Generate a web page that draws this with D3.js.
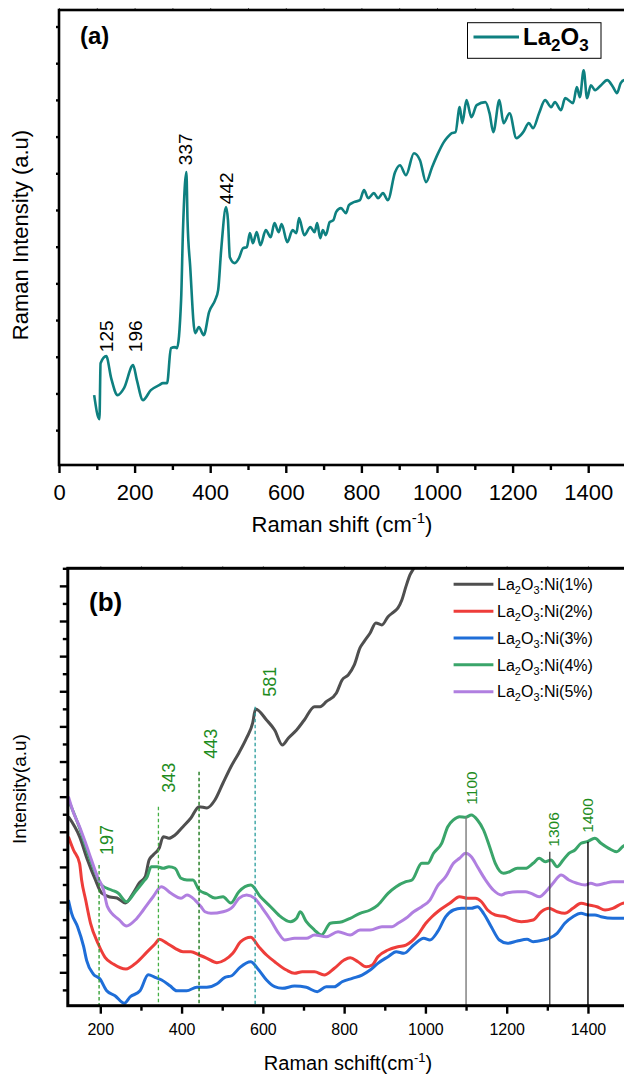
<!DOCTYPE html>
<html>
<head>
<meta charset="utf-8">
<script src="https://cdn.jsdelivr.net/npm/d3@7"></script>
<style>
  html, body { margin: 0; padding: 0; background: #fff; }
  svg { display: block; font-family: "Liberation Sans", Arial, Helvetica, sans-serif; }
</style>
</head>
<body>
<svg id="chart" width="624" height="1074"></svg>
<script>
// ---------- Panel (a): undoped La2O3 Raman spectrum ----------
const shiftTicksA = [0, 200, 400, 600, 800, 1000, 1200, 1400];
const shiftMinorA = [100, 300, 500, 700, 900, 1100, 1300, 1500];
const intensityTicks = [0, 1000, 2000, 3000, 4000, 5000, 6000, 7000, 8000, 9000, 10000, 11000];
const peaksA = [125, 196, 337, 442];

// [Raman shift (cm-1), intensity (a.u.)]
const la2o3 = [
  [93, 954], [107, 300], [110, 1826], [125, 2017], [138, 1417], [155, 954], [172, 1145],
  [196, 1771], [206, 1363], [222, 818], [243, 1090], [265, 1226], [275, 1281], [286, 1281],
  [296, 2235], [307, 2262], [312, 2235], [323, 3543], [328, 5450], [337, 7031], [340, 5723],
  [347, 4469], [360, 2643], [370, 2807], [383, 2589], [397, 3216], [413, 3543], [421, 3815],
  [429, 4905], [442, 6077], [447, 5723], [452, 4714], [465, 4551], [476, 4687], [487, 4960],
  [497, 4987], [505, 5368], [513, 5096], [523, 5396], [533, 5041], [547, 5450], [560, 5259],
  [570, 5641], [581, 5396], [589, 5614], [604, 5123], [618, 5450], [628, 5368], [635, 5777],
  [649, 5314], [665, 5532], [676, 5396], [683, 5641], [691, 5232], [698, 5450], [706, 5314],
  [716, 5668], [726, 5723], [733, 5941], [746, 6050], [759, 5913], [767, 6131], [780, 6213],
  [796, 6268], [807, 6540], [818, 6322], [833, 6458], [844, 6322], [857, 6458], [870, 6268],
  [889, 7031], [902, 7221], [918, 6949], [939, 7548], [955, 7358], [971, 6758], [987, 7167],
  [1003, 7548], [1018, 7848], [1028, 7984], [1039, 8093], [1049, 8121], [1060, 8802],
  [1067, 8366], [1078, 8993], [1091, 8529], [1105, 8856], [1128, 8938], [1139, 8638],
  [1149, 8121], [1165, 8993], [1176, 8366], [1192, 8638], [1210, 7957], [1228, 8121],
  [1243, 8366], [1254, 8230], [1270, 8638], [1286, 8993], [1302, 8802], [1312, 8938],
  [1328, 8720], [1339, 9047], [1360, 8911], [1370, 9347], [1378, 9074], [1388, 9810],
  [1397, 9047], [1407, 9401], [1418, 9265], [1434, 9401], [1450, 9538], [1466, 9347],
  [1476, 9183], [1486, 9456], [1495, 9538], [1500, 9500]
];

// ---------- Panel (b): Ni-doped La2O3 spectra ----------
const shiftTicksB = [200, 400, 600, 800, 1000, 1200, 1400];
const shiftMinorB = [300, 500, 700, 900, 1100, 1300, 1500];
const intensityMinorB = [-500, 500, 1500, 2500, 3500, 4500, 5500, 6500, 7500, 8500, 9500, 10500, 11500];
const dopingLevels = ["1%", "2%", "3%", "4%", "5%"];

const ni1 = [
  [121.5, 4430], [149, 3861], [168.5, 3197], [188, 2628], [203, 2258], [224, 2144], [241, 2115],
  [261.5, 1973], [281, 2258], [296, 2542], [310.5, 2722], [320, 3197], [330, 3340], [345, 3539],
  [355, 3861], [369, 3815], [384, 3909], [403.5, 4145], [423, 4393], [443, 4715], [462.5, 4678],
  [482, 4905], [502, 5389], [521.5, 5853], [541, 6244], [560, 6671], [575, 7098], [582, 7496],
  [609, 7183], [629, 6898], [648, 6471], [663, 6671], [683, 6898], [702, 7183], [727, 7562],
  [741, 7562], [756, 7704], [781, 7952], [795, 8322], [810, 8464], [825, 8749], [839, 9233],
  [849, 9412], [864, 9660], [878, 9945], [893, 9888], [908, 10124], [923, 10266], [932.5, 10372],
  [942, 10599], [952, 10978], [962, 11311], [973, 11547], [982, 11881]
];
const ni2 = [
  [121.5, 3861], [134, 3482], [149, 3103], [154, 2628], [164, 2058], [176, 1395], [195, 806],
  [211.6, 427], [232, 236], [263, 94], [289.6, 285], [314, 569], [334.6, 806], [345, 940],
  [364, 826], [384, 683], [403.5, 586], [423, 586], [443, 493], [462.5, 399], [487, 273],
  [506, 350], [526, 541], [545.5, 871], [570, 996], [590, 729], [609, 493], [629, 302],
  [658, 65], [678, -28], [697, 17], [727, 17], [751, -77], [776, 114], [800, 350], [815, 416],
  [834, 302], [854, 159], [869, 208], [883, 444], [908, 635], [932.5, 729], [952, 777],
  [981, 1062], [1001, 1395], [1016, 1583], [1030, 1725], [1060, 1964], [1084, 2152],
  [1104, 2107], [1123, 2107], [1138, 2010], [1153, 1774], [1172, 1631], [1197, 1583],
  [1216, 1489], [1236, 1441], [1265, 1489], [1285, 1725], [1304, 1822], [1324, 1725],
  [1343, 1680], [1363, 1822], [1383, 1964], [1402.5, 1916], [1422, 1868], [1442, 1774],
  [1461, 1822], [1485, 1964], [1503, 2000]
];
const ni3 = [
  [121.5, 2058], [129.4, 1680], [144, 1298], [159, 729], [166.5, 330], [182.8, -48], [199.3, -190],
  [215.7, -524], [236.2, -666], [259, -882], [273, -703], [297.7, -524], [318, -68], [334.6, -142],
  [351, -219], [371.5, -382], [388, -524], [412.6, -524], [437.2, -427], [461.8, -427],
  [486.4, -333], [506.8, -142], [523.3, -97], [543.8, 142], [570, 302], [590, 65], [609, -219],
  [629, -410], [648, -456], [678, -390], [707, -427], [734, -552], [756, -410], [776, -410],
  [795, -268], [820, -171], [844, -77], [864, 65], [883, 256], [908, 444], [928, 586], [947, 541],
  [971, 777], [996, 968], [1011, 920], [1030, 1156], [1050, 1583], [1069, 1774], [1089, 1822],
  [1113, 1822], [1128, 1868], [1143, 1680], [1162, 1298], [1182, 920], [1202, 826], [1226, 891],
  [1250, 940], [1265, 871], [1290, 920], [1304, 968], [1324, 1110], [1343, 1395], [1363, 1583],
  [1383, 1680], [1400, 1631], [1417, 1631], [1432, 1583], [1461, 1537], [1485, 1537], [1503, 1546]
];
const ni4 = [
  [121.5, 4905], [149, 4108], [168.5, 3425], [188, 2827], [203, 2485], [227.3, 2343], [243.6, 2258],
  [264.5, 2010], [286, 2295], [305.8, 2579], [315.4, 2722], [325.2, 3006], [340, 3006],
  [354.8, 2961], [369, 3006], [383.8, 2961], [398.6, 2676], [413.3, 2628], [428, 2628],
  [443, 2343], [462.6, 2229], [482, 2115], [502, 2152], [521, 1973], [541, 2295], [570, 2485],
  [594, 2152], [619, 1868], [639, 1631], [668, 1441], [683, 1537], [692, 1725], [707, 1441],
  [727, 1204], [744, 1062], [766, 1395], [795, 1441], [815, 1537], [839, 1680], [864, 1774],
  [883, 1916], [908, 2249], [928, 2437], [952, 2579], [967, 2628], [991, 3103], [1006, 3103],
  [1020, 3388], [1040, 3673], [1055, 4145], [1069, 4336], [1084, 4430], [1099, 4413],
  [1113, 4478], [1128, 4336], [1143, 4051], [1158, 3576], [1172, 3103], [1192, 2819],
  [1207, 2864], [1226, 2961], [1246, 2961], [1265, 3103], [1280, 3246], [1295, 3149],
  [1309, 3197], [1324, 3006], [1339, 3197], [1353, 3388], [1368, 3482], [1383, 3673],
  [1398, 3718], [1417, 3815], [1432, 3673], [1451, 3530], [1471, 3434], [1485, 3576], [1503, 3681]
];
const ni5 = [
  [121.5, 4999], [134.3, 4535], [149, 4145], [163.8, 3681], [178.3, 3197], [193, 2722], [208, 2343],
  [217.5, 1868], [247, 1489], [264.5, 1318], [286, 1489], [305.8, 1774], [330, 2152], [350, 2437],
  [374, 2249], [398.6, 2107], [413.3, 2201], [433, 2058], [447.8, 1868], [457.6, 1725],
  [472.4, 1680], [502, 1725], [526, 1868], [541, 2107], [560, 2201], [580, 2107], [599, 1822],
  [619, 1489], [639, 1110], [653.5, 920], [678, 968], [707, 968], [727, 1062], [756, 1014],
  [785, 1156], [815, 1062], [839, 1204], [864, 1204], [893, 1298], [918, 1298], [932.5, 1395],
  [952, 1537], [971, 1725], [991, 1868], [1011, 2058], [1030, 2463], [1050, 2722], [1069, 3103],
  [1084, 3246], [1099, 3388], [1113, 3291], [1128, 3006], [1148, 2628], [1167, 2343],
  [1187, 2201], [1197, 2249], [1226, 2295], [1246, 2295], [1260, 2249], [1280, 2152],
  [1300, 2343], [1314, 2534], [1334, 2770], [1353, 2628], [1373, 2534], [1393, 2485],
  [1407, 2534], [1422, 2485], [1442, 2534], [1461, 2579], [1485, 2579], [1503, 2600]
];
const niSeries = [ni1, ni2, ni3, ni4, ni5];

// band positions marked in panel (b) and how high each marker reaches (a.u.)
const bandShifts = [197, 343, 443, 581, 1100, 1306, 1400];
const bandTops = [3055, 4712, 5711, 7562, 4430, 3434, 3718];

// ---------- drawing ----------
const svg = d3.select("#chart");

function styleAxis(g, fontSize) {
  g.select(".domain").remove();
  g.selectAll(".tick line").attr("stroke", "#000").attr("stroke-width", 2.4);
  g.selectAll(".tick text")
    .attr("fill", "#000")
    .style("font-size", fontSize + "px")
    .style("font-family", '"Liberation Sans", Arial, sans-serif');
}

function formula(textSel, parts, baseSize, subSize, shift) {
  // parts: [text, isSub]
  let down = false;
  parts.forEach(([t, sub]) => {
    const ts = textSel.append("tspan").text(t);
    if (sub && !down) { ts.attr("dy", shift).style("font-size", subSize + "px"); down = true; }
    else if (!sub && down) { ts.attr("dy", -shift).style("font-size", baseSize + "px"); down = false; }
    else if (sub) ts.style("font-size", subSize + "px");
  });
}

// ===== Panel (a) =====
const A = { left: 59, right: 626, top: 10, bottom: 465 };
const xA = d3.scaleLinear().domain([0, 1500]).range([A.left, A.right]);
const yA = d3.scaleLinear().domain([-950, 11450]).range([A.bottom, A.top]);

const gA = svg.append("g");
gA.append("clipPath").attr("id", "clipA")
  .append("rect").attr("x", A.left).attr("y", A.top).attr("width", A.right - A.left).attr("height", A.bottom - A.top);

gA.append("g").attr("transform", `translate(0,${A.bottom})`)
  .call(d3.axisBottom(xA).tickValues(shiftTicksA).tickSize(8).tickPadding(11).tickFormat(d3.format("d")))
  .call(styleAxis, 22);
gA.append("g").attr("transform", `translate(0,${A.bottom})`)
  .call(d3.axisBottom(xA).tickValues(shiftMinorA).tickSize(5).tickFormat(""))
  .call(styleAxis, 22);
gA.append("g").attr("transform", `translate(${A.left},0)`)
  .call(d3.axisLeft(yA).tickValues(intensityTicks).tickSize(3).tickFormat(""))
  .call(styleAxis, 22);
gA.append("g").attr("transform", `translate(0,${A.top})`)
  .call(d3.axisTop(xA).tickValues(shiftTicksA.concat(shiftMinorA)).tickSize(2).tickFormat(""))
  .call(styleAxis, 22)
  .selectAll(".tick line").attr("stroke-width", 1).attr("stroke", "#666");

gA.append("rect")
  .attr("x", A.left).attr("y", A.top).attr("width", A.right - A.left).attr("height", A.bottom - A.top)
  .attr("fill", "none").attr("stroke", "#000").attr("stroke-width", 2.6);

const lineA = d3.line().x(d => xA(d[0])).y(d => yA(d[1])).curve(d3.curveMonotoneX);
gA.append("path").datum(la2o3)
  .attr("clip-path", "url(#clipA)")
  .attr("d", lineA).attr("fill", "none")
  .attr("stroke", "#0e8080").attr("stroke-width", 2.6).attr("stroke-linejoin", "round");

const peakOffsetsA = [[0, 4], [2, 13], [-1, 7], [0, 3]];
peaksA.forEach((p, i) => {
  const pt = la2o3.find(d => d[0] === p);
  const cx = xA(p) + peakOffsetsA[i][0];
  const cy = yA(pt[1]) - peakOffsetsA[i][1];
  gA.append("text")
    .attr("transform", `translate(${cx},${cy}) rotate(-90)`)
    .attr("dominant-baseline", "central")
    .attr("text-anchor", "start")
    .style("font-size", "19px").attr("fill", "#000")
    .text(p);
});

gA.append("text").attr("x", 80).attr("y", 43.5)
  .style("font-size", "24px").style("font-weight", "bold").text("(a)");

// legend (a)
gA.append("rect").attr("x", 467.5).attr("y", 22.7).attr("width", 133.5).attr("height", 35.6)
  .attr("fill", "#fff").attr("stroke", "#000").attr("stroke-width", 1);
gA.append("line").attr("x1", 473.5).attr("x2", 519).attr("y1", 37).attr("y2", 37)
  .attr("stroke", "#0e8080").attr("stroke-width", 3);
const legA = gA.append("text").attr("x", 523).attr("y", 45)
  .style("font-size", "24px").style("font-weight", "bold");
formula(legA, [["La", false], ["2", true], ["O", false], ["3", true]], 24, 17, 6);

// axis titles (a)
const xtA = gA.append("text").attr("x", 342).attr("y", 532).attr("text-anchor", "middle").style("font-size", "22px");
xtA.append("tspan").text("Raman shift (cm");
xtA.append("tspan").attr("dy", -9).style("font-size", "15px").text("-1");
xtA.append("tspan").attr("dy", 9).text(")");
gA.append("text").attr("transform", "translate(28,235) rotate(-90)")
  .attr("text-anchor", "middle").style("font-size", "22px").text("Raman Intensity (a.u)");

// ===== Panel (b) =====
const B = { left: 67.8, right: 628.6, top: 568.3, bottom: 1005.7 };
const xB = d3.scaleLinear().domain([120, 1500]).range([B.left, B.right]);
const yB = d3.scaleLinear().domain([-950, 11500]).range([B.bottom, B.top]);

const gB = svg.append("g");
gB.append("clipPath").attr("id", "clipB")
  .append("rect").attr("x", B.left).attr("y", B.top).attr("width", B.right - B.left).attr("height", B.bottom - B.top);

gB.append("g").attr("transform", `translate(0,${B.bottom})`)
  .call(d3.axisBottom(xB).tickValues(shiftTicksB).tickSize(8).tickPadding(9.5).tickFormat(d3.format("d")))
  .call(styleAxis, 16);
gB.append("g").attr("transform", `translate(0,${B.bottom})`)
  .call(d3.axisBottom(xB).tickValues(shiftMinorB).tickSize(5).tickFormat(""))
  .call(styleAxis, 16);
gB.append("g").attr("transform", `translate(${B.left},0)`)
  .call(d3.axisLeft(yB).tickValues(intensityTicks).tickSize(8).tickFormat(""))
  .call(styleAxis, 16);
gB.append("g").attr("transform", `translate(${B.left},0)`)
  .call(d3.axisLeft(yB).tickValues(intensityMinorB).tickSize(5).tickFormat(""))
  .call(styleAxis, 16);
gB.append("g").attr("transform", `translate(0,${B.top})`)
  .call(d3.axisTop(xB).tickValues(shiftTicksB.concat(shiftMinorB)).tickSize(2).tickFormat(""))
  .call(styleAxis, 16)
  .selectAll(".tick line").attr("stroke-width", 1).attr("stroke", "#666");

const colorsB = ["#4f4f4f", "#ee3d3a", "#1f6ed8", "#3aa56a", "#b07fe0"];
const lineB = d3.line().x(d => xB(d[0])).y(d => yB(d[1])).curve(d3.curveMonotoneX);
niSeries.forEach((s, i) => {
  gB.append("path").datum(s)
    .attr("clip-path", "url(#clipB)")
    .attr("d", lineB).attr("fill", "none")
    .attr("stroke", colorsB[i]).attr("stroke-width", 3).attr("stroke-linejoin", "round");
});

// band markers
const markerColors = ["#2a9a2a", "#45b045", "#0d700d", "#2a9d9d", "#7a7a7a", "#4a4a4a", "#000000"];
const markerDashed = [true, true, true, true, false, false, false];
const labelOffsetsB = [[8, 10], [11, 14], [11.5, 13], [15, 10], [5, 12], [4, 5], [0, 9]];
bandShifts.forEach((b, i) => {
  gB.append("line")
    .attr("x1", xB(b)).attr("x2", xB(b))
    .attr("y1", yB(bandTops[i])).attr("y2", B.bottom)
    .attr("stroke", markerColors[i])
    .attr("stroke-width", markerDashed[i] ? 1.3 : 1.4)
    .attr("stroke-dasharray", markerDashed[i] ? "3.5,2.5" : null);
  gB.append("text")
    .attr("transform", `translate(${xB(b) + labelOffsetsB[i][0]},${yB(bandTops[i]) - labelOffsetsB[i][1]}) rotate(-90)`)
    .attr("dominant-baseline", "central")
    .attr("text-anchor", "start")
    .style("font-size", b >= 1000 ? "15.5px" : "18px")
    .attr("fill", "#1e8c1e")
    .text(b);
});

// frame (b)
gB.append("rect")
  .attr("x", B.left).attr("y", B.top).attr("width", B.right - B.left).attr("height", B.bottom - B.top)
  .attr("fill", "none").attr("stroke", "#000").attr("stroke-width", 3);

gB.append("text").attr("x", 89).attr("y", 611)
  .style("font-size", "26px").style("font-weight", "bold").text("(b)");

// legend (b)
dopingLevels.forEach((lvl, i) => {
  const y = 584.3 + i * 26.85;
  gB.append("line").attr("x1", 453.6).attr("x2", 493.4).attr("y1", y).attr("y2", y)
    .attr("stroke", colorsB[i]).attr("stroke-width", 3);
  const t = gB.append("text").attr("x", 497).attr("y", y + 5.7).style("font-size", "16px").attr("fill", "#000");
  formula(t, [["La", false], ["2", true], ["O", false], ["3", true], [":Ni(" + lvl + ")", false]], 16, 11, 4);
});

// axis titles (b)
const xtB = gB.append("text").attr("x", 348).attr("y", 1070).attr("text-anchor", "middle").style("font-size", "20px");
xtB.append("tspan").text("Raman schift(cm");
xtB.append("tspan").attr("dy", -8).style("font-size", "13px").text("-1");
xtB.append("tspan").attr("dy", 8).text(")");
gB.append("text").attr("transform", "translate(26,789) rotate(-90)")
  .attr("text-anchor", "middle").style("font-size", "19px").text("Intensity(a.u)");
</script>
</body>
</html>
